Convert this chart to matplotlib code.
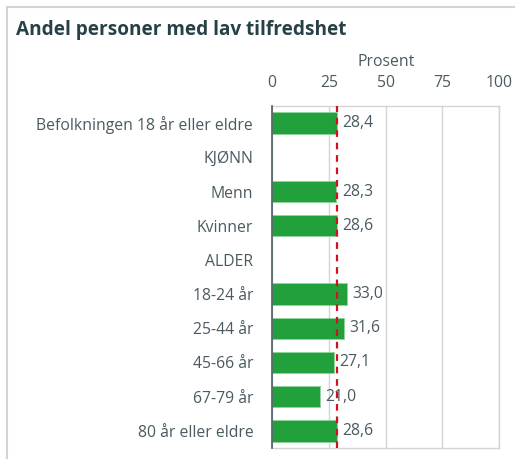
import matplotlib
matplotlib.use("Agg")
import matplotlib.pyplot as plt
from matplotlib.patches import Rectangle
import numpy as np

plt.rcParams['font.family'] = ['Open Sans', 'DejaVu Sans']

title = "Andel personer med lav tilfredshet"
unit_label = "Prosent"
categories = ["Befolkningen 18 år eller eldre", "KJØNN", "Menn", "Kvinner", "ALDER",
              "18-24 år", "25-44 år", "45-66 år", "67-79 år", "80 år eller eldre"]
values = [28.4, None, 28.3, 28.6, None, 33.0, 31.6, 27.1, 21.0, 28.6]
reference_value = 28.4
x_ticks = [0, 25, 50, 75, 100]

W, H = 515, 459
fig = plt.figure(figsize=(W / 100, H / 100), dpi=100)
fig.patch.set_facecolor("white")

# Outer card frame
fig.add_artist(Rectangle((7 / W, -0.05), 1.2, 1 - 7 / H + 0.05,
                         transform=fig.transFigure, fill=False,
                         edgecolor="#d4d4d4", linewidth=1.5))

fig.text(16 / W, 1 - 30 / H, title, fontsize=13.7, fontweight="bold",
         color="#274247", ha="left", va="center")

ax = fig.add_axes([272 / W, 1 - 448 / H, (499.3 - 272) / W, (448 - 106) / H])

fs = 11.3
text_color = "#4a5a60"
bar_color = "#22a03b"
y = np.arange(len(categories))
for yi, v in zip(y, values):
    if v is None:
        continue
    ax.barh(yi, v, height=0.62, color=bar_color, edgecolor="#8fd39d",
            linewidth=0.6, zorder=2)
    ax.annotate(f"{v:.1f}".replace(".", ","), (v, yi), xytext=(4, 0),
                textcoords="offset points", va="center", ha="left",
                fontsize=fs, color=text_color, zorder=3)

ax.axvline(reference_value, color="#d0121f", linewidth=1.6,
           dashes=(3.0, 2.6), zorder=4)

ax.set_xlim(0, 100)
ax.set_ylim(len(categories) - 0.5, -0.5)
ax.set_yticks(y)
ax.set_yticklabels(categories, fontsize=fs, color=text_color)
ax.set_xticks(x_ticks)
ax.xaxis.tick_top()
ax.xaxis.set_label_position("top")
ax.set_xticklabels([str(t) for t in x_ticks], fontsize=fs, color=text_color)
ax.set_xlabel(unit_label, fontsize=fs, color=text_color, labelpad=7)
ax.tick_params(axis="both", length=0)
ax.tick_params(axis="y", pad=13.5)
ax.tick_params(axis="x", pad=10.5)

ax.grid(axis="x", color="#d4d4d4", linewidth=1, zorder=0)
ax.set_axisbelow(True)
for side in ["top", "bottom", "right"]:
    ax.spines[side].set_color("#d4d4d4")
    ax.spines[side].set_linewidth(1)
ax.spines["left"].set_color("#4b5b60")
ax.spines["left"].set_linewidth(1.2)
ax.spines["left"].set_zorder(5)

fig.savefig("out.png", dpi=100, facecolor="white")
